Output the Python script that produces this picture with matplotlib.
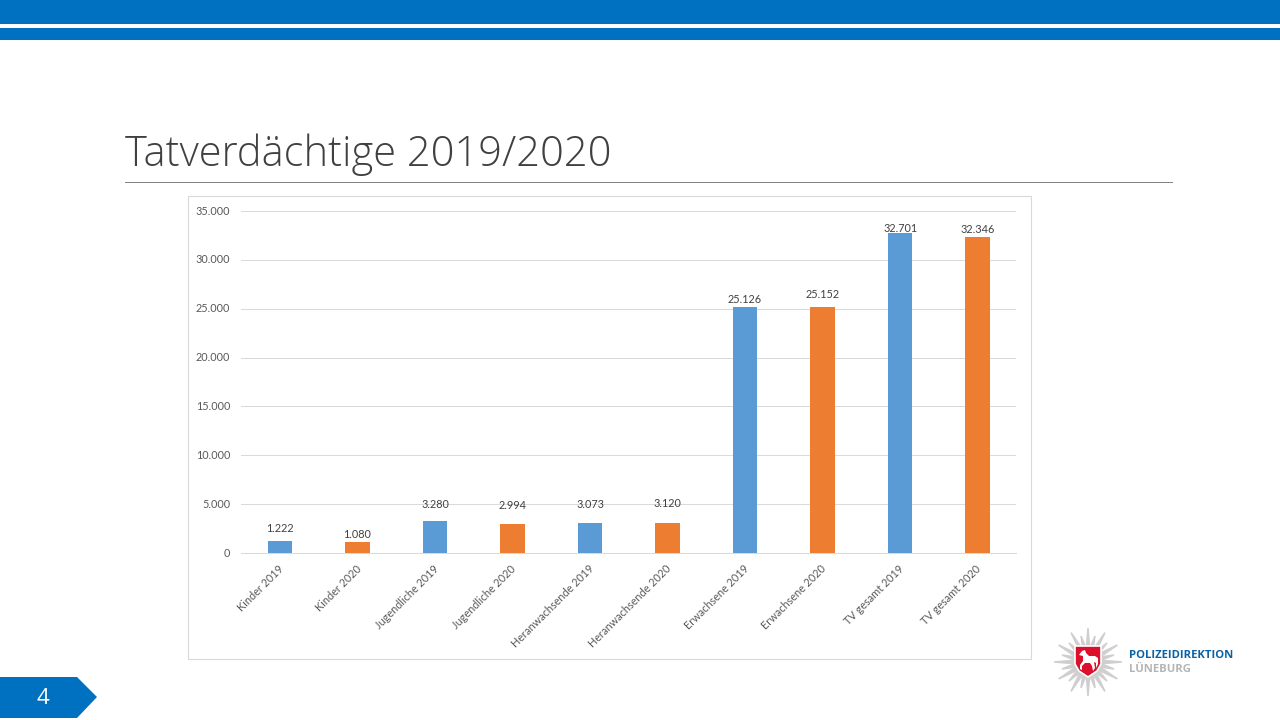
# coding: utf-8
import numpy as np
import matplotlib
matplotlib.use('Agg')
import matplotlib.pyplot as plt
from matplotlib.patches import Rectangle, Polygon
from matplotlib.transforms import ScaledTranslation

categories = ['Kinder 2019', 'Kinder 2020', 'Jugendliche 2019', 'Jugendliche 2020',
              'Heranwachsende 2019', 'Heranwachsende 2020', 'Erwachsene 2019',
              'Erwachsene 2020', 'TV gesamt 2019', 'TV gesamt 2020']
values = [1222, 1080, 3280, 2994, 3073, 3120, 25126, 25152, 32701, 32346]
value_labels = ['1.222', '1.080', '3.280', '2.994', '3.073', '3.120',
                '25.126', '25.152', '32.701', '32.346']
y_ticks = [0, 5000, 10000, 15000, 20000, 25000, 30000, 35000]
y_tick_labels = ['0', '5.000', '10.000', '15.000', '20.000', '25.000', '30.000', '35.000']
# hand placed label gap above each bar, in points
label_gaps = [9.0, 5.5, 12.0, 13.0, 13.0, 14.0, 5.5, 9.5, 3.5, 5.5]

W, H = 1280, 720
BLUE = '#0070c0'
BAR_BLUE = '#5b9bd5'
BAR_ORANGE = '#ed7d31'
TEXT = '#595959'

plt.rcParams['font.family'] = ['Lato', 'DejaVu Sans']
fig = plt.figure(figsize=(12.8, 7.2), dpi=100, facecolor='white')

# slide decoration in pixel coordinates
bg = fig.add_axes([0, 0, 1, 1])
bg.set_xlim(0, W)
bg.set_ylim(H, 0)
bg.axis('off')
bg.add_patch(Rectangle((0, 0), W, 24, color=BLUE, lw=0))
bg.add_patch(Rectangle((0, 28), W, 12, color=BLUE, lw=0))
bg.plot([125, 1171.5], [182, 182], color='#7f7f7f', lw=0.7)
bg.text(125, 166, 'Tatverdächtige 2019/2020', fontsize=30, color='#404040',
        family=['Open Sans', 'DejaVu Sans'], fontweight='light', va='baseline', ha='left')
bg.add_patch(Rectangle((188, 196), 843, 463, fc='white', ec='#d9d9d9', lw=0.8))

# page number arrow
bg.add_patch(Polygon([(0, 677), (77, 677), (97, 697), (77, 718), (0, 718)], color=BLUE, lw=0))
bg.text(43, 698, '4', color='white', fontsize=16, ha='center', va='center',
        family=['Open Sans', 'DejaVu Sans'])

# logo: star, shield and horse
cx, cy = 1088, 662
for i, ang in enumerate(np.arange(0, 360, 15.0)):
    a = np.deg2rad(ang)
    r = 34 if i % 2 == 0 else 27
    n = np.array([-np.sin(a), np.cos(a)])
    d = np.array([np.cos(a), np.sin(a)])
    c = np.array([cx, cy])
    bg.add_patch(Polygon([c + 12 * d + 2.6 * n, c + r * d + 0.8 * n,
                          c + r * d - 0.8 * n, c + 12 * d - 2.6 * n],
                         color='#cfcfcf', lw=0))
bg.add_patch(Polygon([(1075, 646), (1101, 646), (1101, 664), (1097, 671), (1088, 677),
                      (1079, 671), (1075, 664)], fc='#dc0f2d', ec='white', lw=1.2, zorder=3))
bg.add_patch(Polygon([(1079, 655), (1082, 651), (1085, 650), (1086, 653), (1089, 656),
                      (1095, 656), (1098, 658), (1098, 664), (1096, 668), (1096, 663),
                      (1094, 662), (1095, 668), (1093, 671), (1092, 666), (1090, 663),
                      (1085, 663), (1082, 666), (1082, 670), (1080, 669), (1080, 665),
                      (1083, 661), (1083, 656)],
                     color='white', lw=0, zorder=4))
bg.text(1129, 655, 'POLIZEIDIREKTION', color='#0a62a5', fontsize=8.1, fontweight='bold',
        family=['Open Sans', 'DejaVu Sans'], va='center', ha='left')
bg.text(1129, 669, 'LÜNEBURG', color='#b5b5b5', fontsize=8.1, fontweight='bold',
        family=['Open Sans', 'DejaVu Sans'], va='center', ha='left')

# chart
left, right, top, bottom = 241.3, 1016.3, 211, 553
ax = fig.add_axes([left / W, 1 - bottom / H, (right - left) / W, (bottom - top) / H])
ax.patch.set_alpha(0)
x = np.arange(len(values))
colors = [BAR_BLUE if i % 2 == 0 else BAR_ORANGE for i in x]
ax.bar(x, values, width=0.32, color=colors, zorder=3)
ax.set_xlim(-0.5, len(values) - 0.5)
ax.set_ylim(0, 35000)
ax.set_yticks(y_ticks)
ax.set_yticklabels(y_tick_labels, fontsize=7.8, color=TEXT)
ax.set_xticks(x)
ax.set_xticklabels(categories, fontsize=7.8, color=TEXT, rotation=45, ha='right',
                   rotation_mode='anchor')
ax.tick_params(axis='both', length=0)
ax.tick_params(axis='y', pad=8)
ax.tick_params(axis='x', pad=8)
ax.grid(axis='y', color='#d9d9d9', lw=0.7, zorder=0)
ax.set_axisbelow(True)
for s in ['top', 'right', 'left']:
    ax.spines[s].set_visible(False)
ax.spines['bottom'].set_color('#d9d9d9')
ax.spines['bottom'].set_linewidth(0.7)

# nudge tick labels to where the slide has them
up = ScaledTranslation(0, 0.7 / 72, fig.dpi_scale_trans)
for lab in ax.get_yticklabels():
    lab.set_transform(lab.get_transform() + up)
nudge = ScaledTranslation(-1.4 / 72, 0.7 / 72, fig.dpi_scale_trans)
for lab in ax.get_xticklabels():
    lab.set_transform(lab.get_transform() + nudge)

for xi, v, lab, gap in zip(x, values, value_labels, label_gaps):
    ax.annotate(lab, (xi, v), xytext=(0, gap), textcoords='offset points',
                ha='center', va='center', fontsize=7.8, color='#404040')

fig.savefig('out.png', dpi=100)
